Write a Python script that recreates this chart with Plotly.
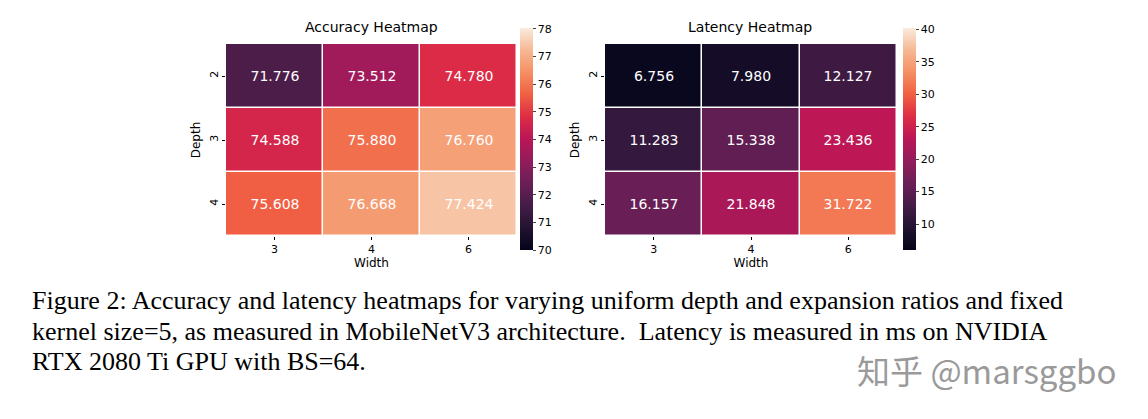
import plotly.graph_objects as go

widths = ["3", "4", "6"]
depths = ["2", "3", "4"]
accuracy = [[71.776, 73.512, 74.780],
            [74.588, 75.880, 76.760],
            [75.608, 76.668, 77.424]]
latency = [[6.756, 7.980, 12.127],
           [11.283, 15.338, 23.436],
           [16.157, 21.848, 31.722]]
acc_ticks = [70, 71, 72, 73, 74, 75, 76, 77, 78]
lat_ticks = [10, 15, 20, 25, 30, 35, 40]

rocket = [[0.0, "#03051A"], [0.1, "#221331"], [0.2, "#451C47"], [0.3, "#6A1F56"],
          [0.4, "#921C5B"], [0.5, "#B91657"], [0.6, "#DD2C45"], [0.7, "#F06043"],
          [0.8, "#F58F63"], [0.9, "#F6B893"], [1.0, "#FAEBDD"]]

W, H = 1148, 419
OFF = 8
def px(x): return (x - OFF) / W
def py(y): return 1 - (y - OFF) / H

fig = go.Figure()
cb_common = dict(thickness=13, len=(250 - 28) / H, lenmode="fraction", y=py(139), yanchor="middle",
                 outlinewidth=0, ticks="outside", ticklen=3, xpad=0, ypad=0,
                 tickfont=dict(size=11, family="DejaVu Sans", color="black"))
fig.add_trace(go.Heatmap(z=accuracy, x=widths, y=depths, colorscale=rocket, zmin=70, zmax=78.03,
                         xgap=1.5, ygap=1.5, texttemplate="%{z:.3f}",
                         textfont=dict(size=14, color="white", family="DejaVu Sans"),
                         colorbar=dict(x=px(520), xanchor="left", tickvals=acc_ticks, **cb_common),
                         xaxis="x", yaxis="y"))
fig.add_trace(go.Heatmap(z=latency, x=widths, y=depths, colorscale=rocket, zmin=6.0, zmax=40.2,
                         xgap=1.5, ygap=1.5, texttemplate="%{z:.3f}",
                         textfont=dict(size=14, color="white", family="DejaVu Sans"),
                         colorbar=dict(x=px(903), xanchor="left", tickvals=lat_ticks, **cb_common),
                         xaxis="x2", yaxis="y2"))

tf = dict(size=12, family="DejaVu Sans", color="black")
ax = dict(showgrid=False, zeroline=False, ticks="outside", ticklen=3, tickcolor="black",
          tickfont=dict(size=11, family="DejaVu Sans", color="black"))
fig.update_layout(
    width=W, height=H, margin=dict(l=0, r=0, t=0, b=0),
    paper_bgcolor="white", plot_bgcolor="white",
    xaxis=dict(domain=[px(226), px(517)], anchor="y", title=dict(text="Width", standoff=2, font=tf), **ax),
    yaxis=dict(domain=[py(236), py(44)], anchor="x", autorange="reversed", tickangle=-90,
               title=dict(text="Depth", standoff=4, font=tf), **ax),
    xaxis2=dict(domain=[px(605), px(897)], anchor="y2", title=dict(text="Width", standoff=2, font=tf), **ax),
    yaxis2=dict(domain=[py(236), py(44)], anchor="x2", autorange="reversed", tickangle=-90,
                title=dict(text="Depth", standoff=4, font=tf), **ax),
)

ann = [
    dict(text="Accuracy Heatmap", x=px(371), y=py(27), size=14, family="DejaVu Sans", xanchor="center", color="black"),
    dict(text="Latency Heatmap", x=px(750), y=py(27), size=14, family="DejaVu Sans", xanchor="center", color="black"),
    dict(text="Figure 2: Accuracy and latency heatmaps for varying uniform depth and expansion ratios and fixed",
         x=px(30), y=py(300), size=26, family="Liberation Serif", xanchor="left", color="black"),
    dict(text="kernel size=5, as measured in MobileNetV3 architecture.  Latency is measured in ms on NVIDIA",
         x=px(30), y=py(331), size=26, family="Liberation Serif", xanchor="left", color="black"),
    dict(text="RTX 2080 Ti GPU with BS=64.",
         x=px(30), y=py(361), size=26, family="Liberation Serif", xanchor="left", color="black"),
    dict(text="知乎 @marsggbo", x=px(1118), y=py(370), size=33, family="Noto Sans CJK SC", xanchor="right", color="#9a9a9a"),
]
for a in ann:
    fig.add_annotation(text=a["text"], x=a["x"], y=a["y"], xref="paper", yref="paper",
                       xanchor=a["xanchor"], yanchor="middle", showarrow=False,
                       font=dict(size=a["size"], family=a["family"], color=a["color"]))

fig.write_html("out.html")
